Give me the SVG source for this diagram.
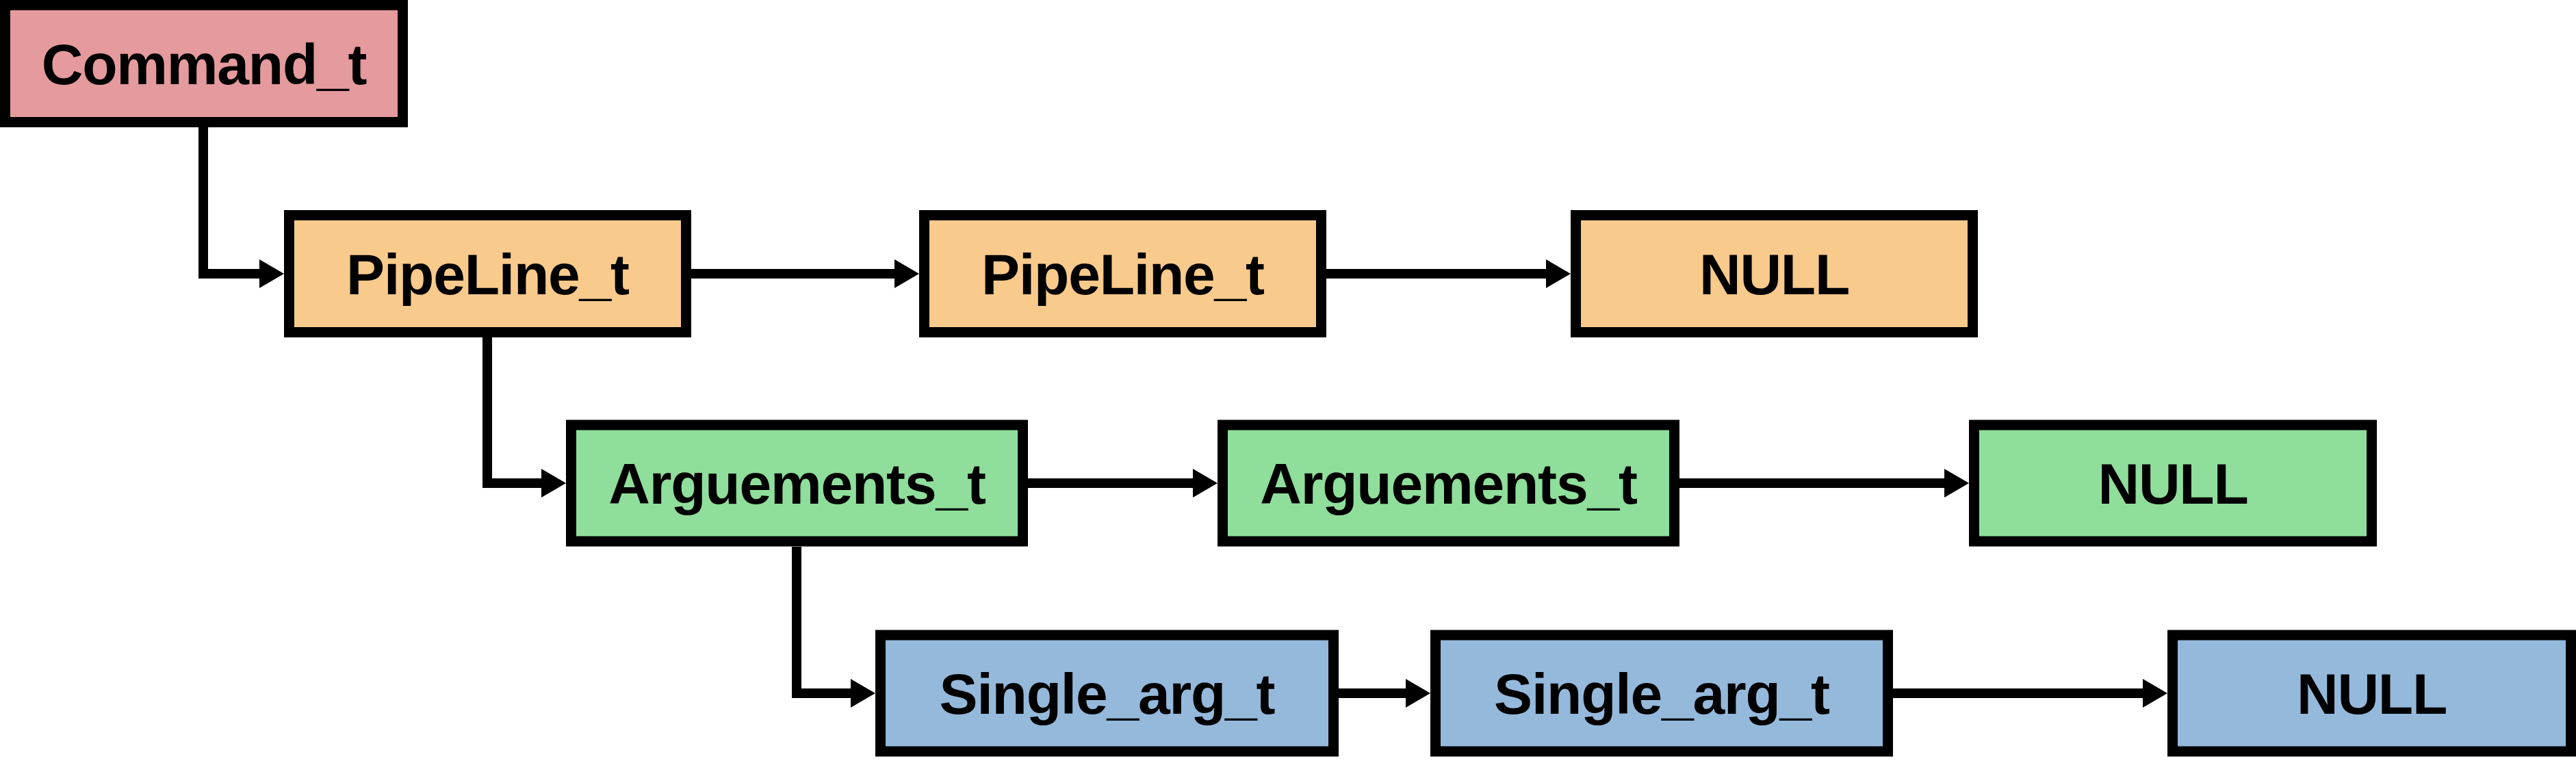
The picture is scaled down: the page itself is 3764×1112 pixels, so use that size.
<svg xmlns="http://www.w3.org/2000/svg" width="3764" height="1112" viewBox="0 0 3764 1112">
<style>
.box{stroke:#000;stroke-width:15}
.cmd{fill:#E59A9D}
.pipe{fill:#F8CA8C}
.arg{fill:#8FDE9B}
.single{fill:#95B9DB}
.lbl{font-family:"Liberation Sans",Arial,sans-serif;font-weight:bold;font-size:84px;letter-spacing:-1.2px;fill:#000;text-anchor:middle}
.conn{fill:none;stroke:#000;stroke-width:14;stroke-linejoin:miter;marker-end:url(#arr)}
</style>
<defs>
<marker id="arr" markerUnits="userSpaceOnUse" markerWidth="36" markerHeight="42" refX="0" refY="21" orient="auto" overflow="visible">
<path d="M0,0 L36,21 L0,42 Z" fill="#000"/>
</marker>
</defs>
<rect width="3764" height="1112" fill="#fff"/>
<g id="connectors">
<path class="conn" d="M297,186 V400 H379"/>
<path class="conn" d="M1010,400 H1307"/>
<path class="conn" d="M1938,400 H2259"/>
<path class="conn" d="M712,493 V706 H791"/>
<path class="conn" d="M1502,706 H1743"/>
<path class="conn" d="M2454,706 H2841"/>
<path class="conn" d="M1164,799 V1013 H1243"/>
<path class="conn" d="M1956,1013 H2054"/>
<path class="conn" d="M2766,1013 H3131"/>
</g>
<g id="command_t">
<rect class="box cmd" x="7.5" y="7.5" width="581" height="171"/>
<text class="lbl" x="298" y="123">Command_t</text>
</g>
<g id="pipeline_1">
<rect class="box pipe" x="422.5" y="314.5" width="580" height="171"/>
<text class="lbl" x="712.5" y="430">PipeLine_t</text>
</g>
<g id="pipeline_2">
<rect class="box pipe" x="1350.5" y="314.5" width="580" height="171"/>
<text class="lbl" x="1640.5" y="430">PipeLine_t</text>
</g>
<g id="null_1">
<rect class="box pipe" x="2302.5" y="314.5" width="580" height="171"/>
<text class="lbl" x="2592.5" y="430">NULL</text>
</g>
<g id="arguements_1">
<rect class="box arg" x="834.5" y="621" width="660" height="170"/>
<text class="lbl" x="1164.5" y="736">Arguements_t</text>
</g>
<g id="arguements_2">
<rect class="box arg" x="1786.5" y="621" width="660" height="170"/>
<text class="lbl" x="2116.5" y="736">Arguements_t</text>
</g>
<g id="null_2">
<rect class="box arg" x="2884.5" y="621" width="581" height="170"/>
<text class="lbl" x="3175" y="736">NULL</text>
</g>
<g id="single_arg_1">
<rect class="box single" x="1286.5" y="928" width="662" height="170"/>
<text class="lbl" x="1617.5" y="1043">Single_arg_t</text>
</g>
<g id="single_arg_2">
<rect class="box single" x="2097.5" y="928" width="661" height="170"/>
<text class="lbl" x="2428" y="1043">Single_arg_t</text>
</g>
<g id="null_3">
<rect class="box single" x="3174.5" y="928" width="582" height="170"/>
<text class="lbl" x="3465.5" y="1043">NULL</text>
</g>
</svg>
